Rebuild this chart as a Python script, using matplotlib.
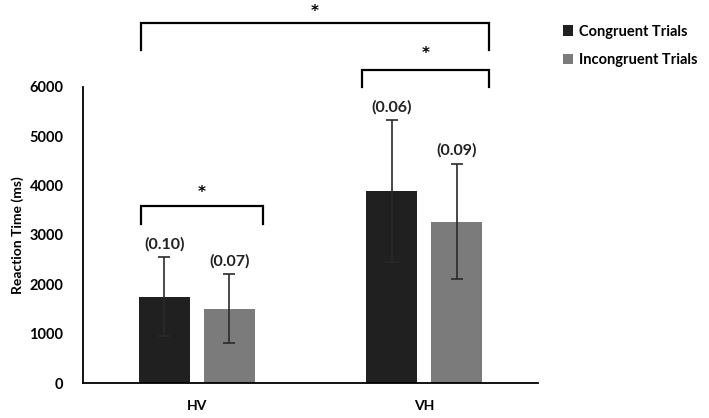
import numpy as np
import matplotlib.pyplot as plt

plt.rcParams['font.family'] = ['Lato', 'DejaVu Sans']

# data
categories = ['HV', 'VH']
congruent = [1750, 3890]
congruent_err = [800, 1440]
incongruent = [1510, 3270]
incongruent_err = [690, 1170]
congruent_labels = ['(0.10)', '(0.06)']
incongruent_labels = ['(0.07)', '(0.09)']

# significance brackets: (x_left, x_right, y_top, y_bottom, y_star)
brackets = [(-0.247, 0.291, 3590, 3230, 3870),
            (0.727, 1.282, 6345, 6000, 6680),
            (-0.247, 1.282, 7300, 6750, 7520)]

fig = plt.figure(figsize=(7.09, 4.18), dpi=100)
ax = fig.add_axes([0.117, 0.0837, 0.642, 0.7083])

x = np.arange(len(categories))
w = 0.225
off = 0.143
dark = '#202020'
grey = '#7b7b7b'

ax.bar(x - off, congruent, w, color=dark, label='Congruent Trials')
ax.bar(x + off, incongruent, w, color=grey, label='Incongruent Trials')
ax.errorbar(x - off, congruent, yerr=congruent_err, fmt='none', ecolor='#2a2a2a',
            elinewidth=1.2, capsize=4, capthick=1.2)
ax.errorbar(x + off, incongruent, yerr=incongruent_err, fmt='none', ecolor='#2a2a2a',
            elinewidth=1.2, capsize=4, capthick=1.2)

for i in range(len(categories)):
    ax.text(x[i] - off, congruent[i] + congruent_err[i] + 120, congruent_labels[i],
            ha='center', va='bottom', fontsize=11.5, fontweight='bold', color='#222222')
    ax.text(x[i] + off, incongruent[i] + incongruent_err[i] + 120, incongruent_labels[i],
            ha='center', va='bottom', fontsize=11.5, fontweight='bold', color='#222222')

for x0, x1, ytop, ybot, ystar in brackets:
    ax.plot([x0, x0, x1, x1], [ybot, ytop, ytop, ybot], color='black', lw=1.6,
            clip_on=False, solid_joinstyle='miter')
    ax.text((x0 + x1) / 2, ystar, '*', ha='center', va='center',
            fontsize=11, fontweight='bold', family='DejaVu Sans', clip_on=False)

ax.set_xlim(-0.5, 1.5)
ax.set_ylim(0, 6000)
ax.set_yticks(range(0, 6001, 1000))
ax.set_xticks(x)
ax.set_xticklabels(categories, fontsize=10, fontweight='bold')
ax.tick_params(axis='y', labelsize=10.5, length=0, pad=14)
ax.tick_params(axis='x', length=0, pad=12)
for t in ax.get_yticklabels():
    t.set_fontweight('bold')
ax.set_ylabel('Reaction Time (ms)', fontsize=10, fontweight='bold', labelpad=4)

for s in ['top', 'right']:
    ax.spines[s].set_visible(False)
ax.spines['left'].set_linewidth(1.3)
ax.spines['bottom'].set_linewidth(1.3)

ax.legend(loc='upper left', bbox_to_anchor=(1.025, 1.255), frameon=False,
          prop={'weight': 'bold', 'size': 10.5}, handlelength=0.7, handleheight=0.7,
          handletextpad=0.4, labelspacing=1.0)

plt.savefig('out.png', dpi=100)
